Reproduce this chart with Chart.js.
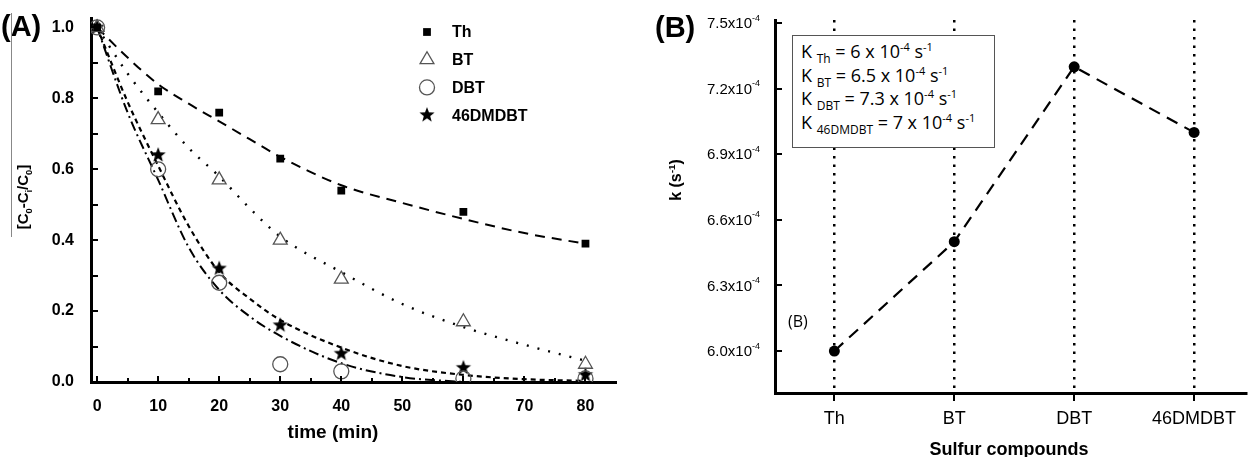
<!DOCTYPE html>
<html>
<head>
<meta charset="utf-8">
<title>Desulfurization kinetics</title>
<script src="https://cdn.jsdelivr.net/npm/chart.js@4.4.1/dist/chart.umd.min.js"></script>
<style>
  body { margin: 0; background: #fff; }
  #page { position: relative; width: 1252px; height: 457px; overflow: hidden; font-family: "Liberation Sans", Arial, sans-serif; color: #000; }
  .abs { position: absolute; }
  #wrapA { left: 0; top: 0; width: 632px; height: 457px; }
  #wrapB { left: 632px; top: 0; width: 620px; height: 457px; }
  .panel { font-weight: bold; font-size: 29px; line-height: 1; }
  .ttl { font-weight: bold; white-space: nowrap; line-height: 1; transform: translate(-50%, -50%); }
  .rot { transform: translate(-50%, -50%) rotate(-90deg); }
  sub, sup { font-size: 0.62em; line-height: 0; }
  #kbox { left: 792px; top: 35px; width: 203px; height: 113px; box-sizing: border-box; border: 1px solid #555; background: #fff;
          font-family: "Open Sans", sans-serif; font-size: 18px; line-height: 23.5px; padding: 4px 0 0 8px; white-space: nowrap; }
  #kbox sub { font-size: 12px; }
  #kbox sup { font-size: 11px; }
</style>
</head>
<body>
<div id="page">
  <div class="abs" id="wrapA"><canvas id="chartA"></canvas></div>
  <div class="abs" id="wrapB"><canvas id="chartB"></canvas></div>

  <div class="abs panel" style="left:1px;top:12px;">(A)</div>
  <div class="abs panel" style="left:655px;top:13px;">(B)</div>
  <div class="abs" style="left:11px;top:13px;width:1px;height:224px;background:#888;"></div>
  <div class="abs ttl rot" style="left:22px;top:197px;font-size:15px;">[C<sub>0</sub>-C<sub>i</sub>/C<sub>0</sub>]</div>
  <div class="abs ttl" style="left:333px;top:431px;font-size:19px;">time (min)</div>
  <div class="abs ttl rot" style="left:676px;top:180px;font-size:16px;">k (s<sup>-1</sup>)</div>
  <div class="abs ttl" style="left:1009px;top:449px;font-size:18px;">Sulfur compounds</div>
  <div class="abs" style="left:788px;top:310px;font-family:'Open Sans',sans-serif;font-size:16px;">(B)</div>
  <div class="abs" id="kbox">
    K <sub>Th</sub> = 6 x 10<sup>-4</sup> s<sup>-1</sup><br>
    K <sub>BT</sub> = 6.5 x 10<sup>-4</sup> s<sup>-1</sup><br>
    K <sub>DBT</sub> = 7.3 x 10<sup>-4</sup> s<sup>-1</sup><br>
    K <sub>46DMDBT</sub> = 7 x 10<sup>-4</sup> s<sup>-1</sup>
  </div>
</div>
<script>
// ---- panel A data: [C0-Ci/C0] vs time
const times = [0, 10, 20, 30, 40, 60, 80];
const thVals = [1.0, 0.82, 0.76, 0.63, 0.54, 0.48, 0.39];
const btVals = [1.0, 0.74, 0.57, 0.40, 0.29, 0.17, 0.05];
const dbtVals = [1.0, 0.60, 0.28, 0.05, 0.03, 0.01, 0.01];
const dmdbtVals = [1.0, 0.64, 0.32, 0.16, 0.08, 0.04, 0.02];

// fitted curves
const fitTimes = [0, 5, 10, 15, 20, 25, 30, 40, 50, 60, 70, 80];
const thFit = [1.0, 0.915, 0.84, 0.785, 0.735, 0.685, 0.635, 0.555, 0.505, 0.46, 0.42, 0.39];
const btFit = [1.0, 0.87, 0.76, 0.66, 0.58, 0.49, 0.41, 0.31, 0.22, 0.155, 0.105, 0.06];
const dbtFit = [1.0, 0.76, 0.57, 0.38, 0.26, 0.185, 0.13, 0.053, 0.014, 0.0, null, null];
const dmdbtFit = [1.0, 0.79, 0.61, 0.44, 0.31, 0.235, 0.175, 0.097, 0.045, 0.02, 0.008, 0.003];

const xTicksA = [0, 10, 20, 30, 40, 50, 60, 70, 80];
const xMinorA = [5, 15, 25, 35, 45, 55, 65, 75];
const yTicksA = [0, 0.2, 0.4, 0.6, 0.8, 1.0];
const yMinorA = [0.1, 0.3, 0.5, 0.7, 0.9];

// ---- panel B data: rate constants (x 10^-4 s^-1)
const compounds = ['Th', 'BT', 'DBT', '46DMDBT'];
const kVals = [6.0, 6.5, 7.3, 7.0];
const kTicks = [6.0, 6.3, 6.6, 6.9, 7.2, 7.5];

// filled five-point star used as a point style
function makeStar(r) {
  const c = document.createElement('canvas');
  c.width = c.height = Math.ceil(r * 2 + 2);
  const g = c.getContext('2d');
  const cx = c.width / 2, cy = c.height / 2;
  g.beginPath();
  for (let i = 0; i < 10; i++) {
    const rad = i % 2 ? r * 0.42 : r;
    const a = -Math.PI / 2 + i * Math.PI / 5;
    g.lineTo(cx + rad * Math.cos(a), cy + rad * Math.sin(a));
  }
  g.closePath();
  g.fillStyle = '#000';
  g.fill();
  return c;
}
const starImg = makeStar(8);

function pts(xs, ys) {
  return xs.map((x, i) => ({ x: x, y: ys[i] }));
}

// inward / outward tick marks drawn on the scales
function tickPlugin(marks) {
  return {
    id: 'tickMarks',
    afterDraw(chart) {
      const ctx = chart.ctx;
      ctx.save();
      ctx.strokeStyle = '#000';
      ctx.lineWidth = 2;
      marks.forEach(m => {
        const sc = chart.scales[m.axis];
        m.values.forEach(v => {
          const p = Math.round(sc.getPixelForValue(v));
          ctx.beginPath();
          if (sc.isHorizontal()) {
            ctx.moveTo(p, sc.top);
            ctx.lineTo(p, sc.top - m.len);
          } else {
            ctx.moveTo(sc.right, p);
            ctx.lineTo(sc.right + m.len, p);
          }
          ctx.stroke();
        });
      });
      ctx.restore();
    }
  };
}

const legendA = {
  id: 'legendA',
  afterDraw(chart) {
    const ctx = chart.ctx;
    const x0 = chart.chartArea.left + 336;
    ctx.save();
    ctx.font = 'bold 16px "Liberation Sans", Arial, sans-serif';
    ctx.textBaseline = 'middle';
    chart.data.datasets.filter(d => d.inLegend).forEach((d, i) => {
      const y = 32 + i * 27.7;
      ctx.fillStyle = d.backgroundColor;
      ctx.strokeStyle = d.borderColor;
      ctx.lineWidth = d.borderWidth;
      Chart.helpers.drawPoint(ctx, { pointStyle: d.pointStyle, radius: d.pointRadius, rotation: 0, borderWidth: d.borderWidth }, x0, y);
      ctx.fillStyle = '#000';
      ctx.fillText(d.label, x0 + 25, y + 1);
    });
    ctx.restore();
  }
};

const boldTick = { size: 16, weight: 'bold', family: '"Liberation Sans", Arial, sans-serif' };

new Chart(document.getElementById('chartA'), {
  type: 'scatter',
  data: {
    datasets: [
      { label: 'Th', inLegend: true, data: pts(times, thVals), pointStyle: 'rect', pointRadius: 5.5, backgroundColor: '#000', borderColor: '#000', borderWidth: 0, order: 0 },
      { label: 'BT', inLegend: true, data: pts(times, btVals), pointStyle: 'triangle', pointRadius: 8, backgroundColor: 'rgba(0,0,0,0)', borderColor: '#555', borderWidth: 1.3, order: 0 },
      { label: 'DBT', inLegend: true, data: pts(times, dbtVals), pointStyle: 'circle', pointRadius: 7.5, backgroundColor: 'rgba(0,0,0,0)', borderColor: '#555', borderWidth: 1.3, order: 0 },
      { label: '46DMDBT', inLegend: true, data: pts(times, dmdbtVals), pointStyle: starImg, pointRadius: 8, backgroundColor: '#000', borderColor: '#000', borderWidth: 0, order: 0 },
      { label: 'Th fit', data: pts(fitTimes, thFit), showLine: true, pointRadius: 0, borderColor: '#000', borderWidth: 2, borderDash: [10, 7], cubicInterpolationMode: 'monotone', order: 1 },
      { label: 'BT fit', data: pts(fitTimes, btFit), showLine: true, pointRadius: 0, borderColor: '#000', borderWidth: 2.4, borderDash: [2, 9], cubicInterpolationMode: 'monotone', order: 1 },
      { label: 'DBT fit', data: pts(fitTimes, dbtFit), showLine: true, pointRadius: 0, borderColor: '#000', borderWidth: 2, borderDash: [10, 4, 2, 4], cubicInterpolationMode: 'monotone', order: 1 },
      { label: '46DMDBT fit', data: pts(fitTimes, dmdbtFit), showLine: true, pointRadius: 0, borderColor: '#000', borderWidth: 2.2, borderDash: [5, 4], cubicInterpolationMode: 'monotone', order: 1 }
    ]
  },
  options: {
    responsive: true,
    maintainAspectRatio: false,
    animation: false,
    layout: { padding: { left: 0, top: 13, right: 16, bottom: 0 } },
    plugins: { legend: { display: false }, tooltip: { enabled: false } },
    scales: {
      x: {
        type: 'linear', min: -1, max: 85,
        grid: { display: false },
        border: { display: true, width: 3, color: '#000' },
        ticks: { font: boldTick, color: '#000', padding: 7, maxRotation: 0 },
        afterBuildTicks: s => { s.ticks = xTicksA.map(v => ({ value: v })); },
        afterFit: s => { s.height = 75; }
      },
      y: {
        min: 0, max: 1.025,
        grid: { display: false },
        border: { display: true, width: 3, color: '#000' },
        ticks: { font: boldTick, color: '#000', padding: 9, callback: v => v.toFixed(1) },
        afterBuildTicks: s => { s.ticks = yTicksA.map(v => ({ value: v })); },
        afterFit: s => { s.width = 91; }
      }
    }
  },
  plugins: [
    tickPlugin([
      { axis: 'x', values: xTicksA, len: 6 },
      { axis: 'x', values: xMinorA, len: 4 },
      { axis: 'y', values: yTicksA.concat(yMinorA), len: 7 }
    ]),
    legendA
  ]
});

const sciLabels = {
  id: 'sciLabels',
  afterDraw(chart) {
    const ctx = chart.ctx;
    const sc = chart.scales.y;
    const right = sc.right - 15;
    ctx.save();
    ctx.fillStyle = '#000';
    ctx.textAlign = 'right';
    ctx.textBaseline = 'middle';
    kTicks.forEach(v => {
      const y = sc.getPixelForValue(v);
      ctx.font = '9px "Liberation Sans", Arial, sans-serif';
      const supW = ctx.measureText('-4').width;
      ctx.fillText('-4', right, y - 5);
      ctx.font = '15px "Liberation Sans", Arial, sans-serif';
      ctx.fillText(v.toFixed(1) + 'x10', right - supW, y + 1);
    });
    ctx.restore();
  }
};

new Chart(document.getElementById('chartB'), {
  type: 'line',
  data: {
    datasets: [{
      label: 'k',
      data: pts(compounds.map((c, i) => i), kVals),
      borderColor: '#000',
      borderWidth: 2.2,
      borderDash: [12, 8],
      pointRadius: 5.5,
      pointBackgroundColor: '#000',
      pointBorderWidth: 0,
      tension: 0
    }]
  },
  options: {
    responsive: true,
    maintainAspectRatio: false,
    animation: false,
    layout: { padding: { left: 0, top: 20, right: 0, bottom: 0 } },
    plugins: { legend: { display: false }, tooltip: { enabled: false } },
    scales: {
      x: {
        type: 'linear', min: -0.495, max: 3.437,
        grid: { display: true, color: '#000', lineWidth: 2.5, drawTicks: false },
        border: { display: true, width: 3, color: '#000', dash: [2.5, 6] },
        ticks: { font: { size: 18, family: '"Liberation Sans", Arial, sans-serif' }, color: '#000', padding: 15, maxRotation: 0, callback: v => compounds[v] },
        afterBuildTicks: s => { s.ticks = compounds.map((c, i) => ({ value: i })); },
        afterFit: s => { s.height = 64; }
      },
      y: {
        min: 5.808, max: 7.514,
        grid: { display: false },
        border: { display: true, width: 3, color: '#000' },
        ticks: { display: false },
        afterBuildTicks: s => { s.ticks = kTicks.map(v => ({ value: v })); },
        afterFit: s => { s.width = 143; }
      }
    }
  },
  plugins: [
    tickPlugin([
      { axis: 'x', values: compounds.map((c, i) => i), len: -8 },
      { axis: 'y', values: kTicks, len: 7 }
    ]),
    sciLabels
  ]
});
</script>
</body>
</html>
